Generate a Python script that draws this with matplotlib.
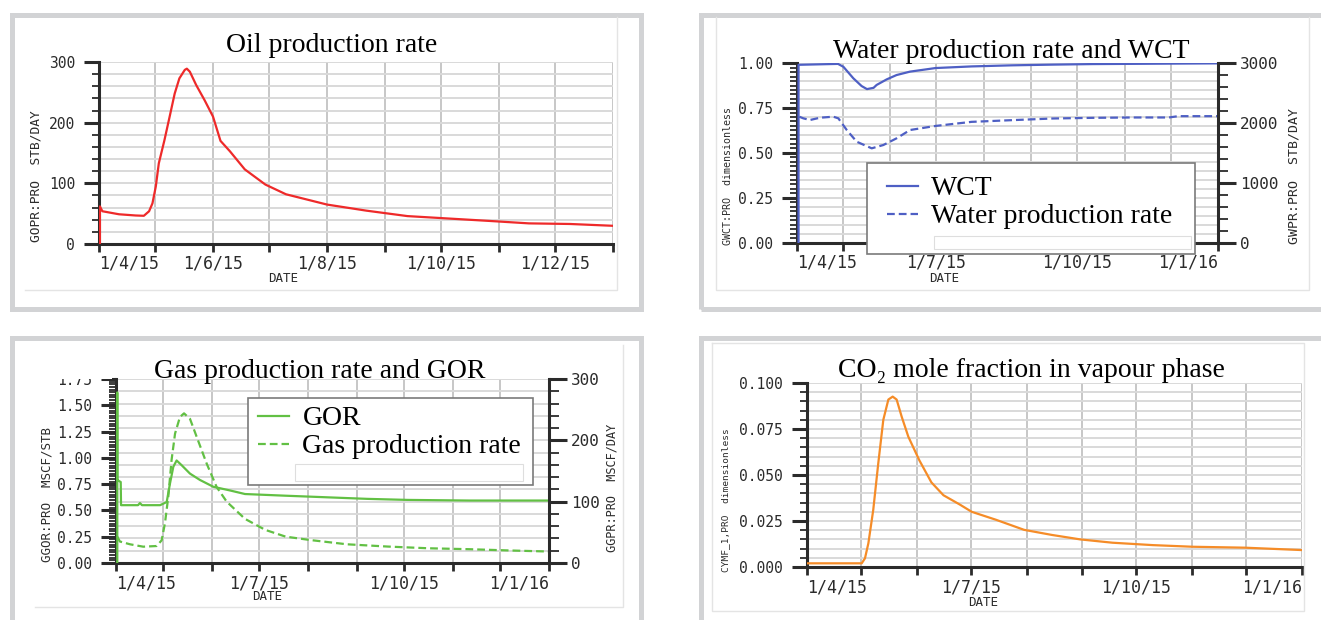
import datetime as dt

import matplotlib
matplotlib.use('Agg')
import matplotlib.pyplot as plt
import numpy as np
from matplotlib.lines import Line2D
from matplotlib.patches import Rectangle
from matplotlib.ticker import FormatStrFormatter, MultipleLocator

W, H = 1321, 620
START = np.datetime64('2015-04-01')
END = np.datetime64('2016-01-01')

SERIF = ['Liberation Serif', 'DejaVu Serif']
MONO = 'DejaVu Sans Mono'
INK = '#2b2b2b'
PT = 0.72  # points per pixel at dpi 100

# days after 1/4/15
OIL_DAYS = [0.5, 0.5, 1.8, 10.7, 19.6, 24, 26.8, 28.6, 30.4, 32, 35, 37.8, 40.5, 43, 45.9, 47, 48.6,
            52, 56.5, 61, 65, 70, 78, 89, 100, 122, 143, 165, 187, 209, 230, 252, 275]
OIL_RATE = [0, 62, 54, 49, 47, 46.5, 54, 67, 95, 133, 171, 210, 248, 273, 287, 289, 284,
            262, 237, 210, 170, 153, 123, 98, 82, 65, 55, 46, 42, 38, 34, 33, 30]

WCT_DAYS = [1.0, 1.0, 26.8, 30.3, 36.8, 42.2, 45.7, 50, 52, 58.6, 65, 73.8, 90.5, 114, 140, 167, 193, 275]
WCT = [0, 0.99, 0.995, 0.979, 0.915, 0.872, 0.855, 0.862, 0.878, 0.909, 0.933, 0.952, 0.972, 0.981,
       0.987, 0.991, 0.994, 0.998]

WAT_DAYS = [1.5, 4.1, 8.5, 15, 23.7, 27, 32.5, 39, 48.8, 56.4, 65, 73.8, 90.5, 114, 140, 167, 193,
            219, 243, 249, 275]
WAT_RATE = [2105, 2078, 2050, 2088, 2105, 2078, 1883, 1688, 1578, 1633, 1744, 1883, 1951, 2019,
            2047, 2075, 2086, 2092, 2092, 2114, 2114]

GOR_DAYS = [0.8, 0.8, 0.8, 3.0, 3.2, 9, 14, 15.2, 16.5, 28, 32.2, 34.3, 36.4, 38.5, 41.7, 47, 53.3,
            61.8, 72.4, 81.9, 107.7, 133.7, 159.6, 185.4, 224.4, 275]
GOR = [0, 1.62, 0.79, 0.77, 0.55, 0.55, 0.55, 0.57, 0.55, 0.55, 0.58, 0.757, 0.915, 0.975, 0.93,
       0.85, 0.79, 0.725, 0.69, 0.656, 0.64, 0.625, 0.61, 0.60, 0.594, 0.594]

GAS_DAYS = [0.8, 2.5, 8.9, 17.3, 25.8, 29, 31.1, 33.2, 35.3, 37.5, 40.6, 43.2, 47, 51.2, 57.6, 63.9,
            70.3, 81.9, 94.8, 107.7, 123.2, 146.7, 172.6, 198.5, 224.4, 250.3, 275]
GAS_RATE = [43, 35, 30.5, 26.6, 27.7, 37, 65, 108, 168, 211, 238, 244, 235, 206, 162, 124,
            100, 72, 54, 43, 37.5, 30.5, 26.8, 24, 22.5, 20.4, 18.7]

CO2_DAYS = [0, 30.4, 32.2, 34.1, 36.8, 39.6, 42.4, 45.2, 47.6, 49.8, 52.6, 56.3, 62.4, 69.1, 75.8,
            84.8, 91.5, 104.9, 120.6, 136.2, 151.8, 169.7, 192, 214.4, 243.3, 275]
CO2 = [0.002, 0.002, 0.0047, 0.0129, 0.031, 0.0564, 0.08, 0.091, 0.0926, 0.091, 0.0817, 0.0708,
       0.058, 0.046, 0.039, 0.034, 0.030, 0.0257, 0.0202, 0.0174, 0.015, 0.0132, 0.0119, 0.011,
       0.0105, 0.0092]

RED = '#ee2a2a'
BLUE = '#4e5fc4'
GREEN = '#62c044'
ORANGE = '#f58c28'
DASH = (0, (3.5, 1.8))


def to_dates(days):
    return START + (np.asarray(days, dtype=float) * 24 * 60).astype('timedelta64[m]')


def px_axes(fig, l, t, r, b):
    return fig.add_axes([l / W, 1 - b / H, (r - l) / W, (b - t) / H])


def px_rect(fig, l, t, r, b, **kw):
    return Rectangle((l / W, 1 - b / H), (r - l) / W, (b - t) / H, transform=fig.transFigure, **kw)


def fig_line(fig, xs, ys, **kw):
    fig.add_artist(Line2D([x / W for x in xs], [1 - y / H for y in ys],
                          transform=fig.transFigure, **kw))


def fig_text(fig, x, y, s, **kw):
    fig.text(x / W, 1 - y / H, s, **kw)


def style_axes(ax, ymax, major, minor, grid_step, label_every, fmt):
    ax.set_xlim(START, END)
    ax.set_ylim(0, ymax)
    months = np.arange('2015-04', '2016-02', dtype='datetime64[M]').astype('datetime64[D]')
    ax.set_xticks(months)
    labels = []
    for i, m in enumerate(months):
        d = m.astype(dt.date)
        labels.append(f'{d.day}/{d.month}/{d.year % 100}' if i % label_every == 0 else '')
    ax.set_xticklabels(labels)
    ticklabels = ax.get_xticklabels()
    ticklabels[0].set_ha('left')
    ticklabels[-1].set_ha('right')

    ax.yaxis.set_major_locator(MultipleLocator(major))
    ax.yaxis.set_minor_locator(MultipleLocator(minor))
    ax.yaxis.set_major_formatter(FormatStrFormatter(fmt))

    ax.tick_params(axis='x', which='major', direction='out', length=8 * PT, width=2, color=INK,
                   pad=3 * PT, labelsize=12, labelcolor=INK, labelfontfamily=MONO)
    ax.tick_params(axis='y', which='major', direction='out', length=15 * PT, width=2.2, color=INK,
                   pad=9 * PT, labelsize=10.5, labelcolor=INK, labelfontfamily=MONO)
    ax.tick_params(axis='y', which='minor', direction='out', length=7 * PT, width=1.3, color=INK)

    ax.set_axisbelow(True)
    ax.grid(axis='x', which='major', color='#bdbdbd', lw=1.2)
    ax.hlines(np.arange(grid_step, ymax + grid_step / 2, grid_step), 0, 1,
              transform=ax.get_yaxis_transform(), colors='#d9d9d9', lw=1.4, zorder=0.8)

    for s in ('top', 'right'):
        ax.spines[s].set_visible(False)
    for s in ('left', 'bottom'):
        ax.spines[s].set_linewidth(2.2)
        ax.spines[s].set_color(INK)


def style_right(ax2, ymax, major, minor):
    ax2.set_ylim(0, ymax)
    ax2.yaxis.set_major_locator(MultipleLocator(major))
    ax2.yaxis.set_minor_locator(MultipleLocator(minor))
    ax2.yaxis.set_major_formatter(FormatStrFormatter('%d'))
    ax2.tick_params(axis='y', which='major', direction='out', length=18 * PT, width=2.2, color=INK,
                    pad=4 * PT, labelsize=11.5, labelcolor=INK, labelfontfamily=MONO)
    ax2.tick_params(axis='y', which='minor', direction='out', length=10 * PT, width=1.3, color=INK)
    for s in ('top', 'left', 'bottom'):
        ax2.spines[s].set_visible(False)
    ax2.spines['right'].set_linewidth(2.2)
    ax2.spines['right'].set_color(INK)


def legend_box(fig, ax, handles, box, anchor, blank):
    ax.add_artist(px_rect(fig, *box, facecolor='white', edgecolor='#7a7a7a', lw=1.2,
                          zorder=5, clip_on=False))
    ax.add_artist(px_rect(fig, *blank, facecolor='white', edgecolor='#dedede', lw=0.8,
                          zorder=5.5, clip_on=False))
    leg = ax.legend(handles=handles, loc='upper left', bbox_to_anchor=(anchor[0] / W, 1 - anchor[1] / H),
                    bbox_transform=fig.transFigure, frameon=False, prop={'family': SERIF, 'size': 20},
                    handlelength=1.1, handletextpad=0.5, labelspacing=0.09, borderpad=0, borderaxespad=0)
    leg.set_zorder(6)


fig = plt.figure(figsize=(W / 100, H / 100), dpi=100)
fig.patch.set_facecolor('white')

# panel frames and faint inner borders
FRAME = '#d2d3d5'
for box in [(11.5, 14.5, 640.5, 308.5), (700.5, 14.5, 1335, 308.5),
            (11.5, 337.5, 640.5, 640), (700.5, 337.5, 1335, 640)]:
    fig.add_artist(px_rect(fig, *box, facecolor='none', edgecolor=FRAME, lw=5 * PT, zorder=1))
FAINT = dict(color='#e4e4e4', lw=1.0, zorder=1)
fig_line(fig, [25, 617, 617], [290, 290, 17], **FAINT)
fig_line(fig, [716, 716, 1309, 1309], [17, 290, 290, 17], **FAINT)
fig_line(fig, [35, 623, 623], [607, 607, 345], **FAINT)
fig_line(fig, [712, 712, 1304, 1304, 712], [343, 611, 611, 343, 343], **FAINT)

# --- oil production rate
ax1 = px_axes(fig, 99, 62, 613, 244)
style_axes(ax1, 300, 100, 20, 20, 2, '%d')
ax1.plot(to_dates(OIL_DAYS), OIL_RATE, color=RED, lw=1.6, zorder=3)
fig_text(fig, 332, 52, 'Oil production rate', ha='center', va='baseline', fontsize=20, family=SERIF)
fig_text(fig, 36, 176, 'GOPR:PRO  STB/DAY', rotation=90, ha='center', va='center',
         fontsize=9.3, family=MONO, color=INK)
fig_text(fig, 283, 278, 'DATE', ha='center', va='center', fontsize=9, family=MONO, color=INK)

# --- water production rate and WCT
ax2 = px_axes(fig, 797, 63, 1218, 243)
style_axes(ax2, 1.0, 0.25, 0.025, 0.05, 3, '%.2f')
h_wct, = ax2.plot(to_dates(WCT_DAYS), WCT, color=BLUE, lw=1.6, zorder=3, label='WCT')
ax2r = ax2.twinx()
style_right(ax2r, 3000, 1000, 200)
h_wat, = ax2r.plot(to_dates(WAT_DAYS), WAT_RATE, color=BLUE, lw=1.6, ls=DASH, label='Water production rate')
legend_box(fig, ax2r, [h_wct, h_wat], (867, 163, 1195, 254), (887, 176), (934, 236, 1191, 249))
fig_text(fig, 1011, 58, 'Water production rate and WCT', ha='center', va='baseline', fontsize=20, family=SERIF)
fig_text(fig, 728, 176, 'GWCT:PRO  dimensionless', rotation=90, ha='center', va='center',
         fontsize=7.2, family=MONO, color=INK)
fig_text(fig, 1294, 176, 'GWPR:PRO  STB/DAY', rotation=90, ha='center', va='center',
         fontsize=9.5, family=MONO, color=INK)
fig_text(fig, 944, 278, 'DATE', ha='center', va='center', fontsize=9, family=MONO, color=INK)

# --- gas production rate and GOR
ax3 = px_axes(fig, 116, 379, 549, 563)
style_axes(ax3, 1.75, 0.25, 0.025, 1.75 / 15, 3, '%.2f')
h_gor, = ax3.plot(to_dates(GOR_DAYS), GOR, color=GREEN, lw=1.6, zorder=3, label='GOR')
ax3r = ax3.twinx()
style_right(ax3r, 300, 100, 20)
h_gas, = ax3r.plot(to_dates(GAS_DAYS), GAS_RATE, color=GREEN, lw=1.6, ls=DASH, label='Gas production rate')
legend_box(fig, ax3r, [h_gor, h_gas], (248, 398, 533, 485), (258, 406), (295, 464, 523, 481))
fig.add_artist(px_rect(fig, 40, 350, 112, 378.5, facecolor='white', edgecolor='none', zorder=2))
fig_text(fig, 320, 378, 'Gas production rate and GOR', ha='center', va='baseline', fontsize=20, family=SERIF)
fig_text(fig, 47, 494, 'GGOR:PRO  MSCF/STB', rotation=90, ha='center', va='center',
         fontsize=9.0, family=MONO, color=INK)
fig_text(fig, 612, 488, 'GGPR:PRO  MSCF/DAY', rotation=90, ha='center', va='center',
         fontsize=8.6, family=MONO, color=INK)
fig_text(fig, 267, 597, 'DATE', ha='center', va='center', fontsize=9, family=MONO, color=INK)

# --- CO2 mole fraction
ax4 = px_axes(fig, 807, 383, 1302, 567)
style_axes(ax4, 0.1, 0.025, 0.005, 0.005, 3, '%.3f')
ax4.plot(to_dates(CO2_DAYS), CO2, color=ORANGE, lw=1.6, zorder=3)
fig_text(fig, 1031, 377, 'CO\u2082 mole fraction in vapour phase', ha='center', va='baseline',
         fontsize=20, family=SERIF)
fig_text(fig, 726, 500, 'CYMF_1,PRO  dimensionless', rotation=90, ha='center', va='center',
         fontsize=6.8, family=MONO, color=INK)
fig_text(fig, 983, 602, 'DATE', ha='center', va='center', fontsize=9, family=MONO, color=INK)

fig.savefig('out.png', dpi=100)
